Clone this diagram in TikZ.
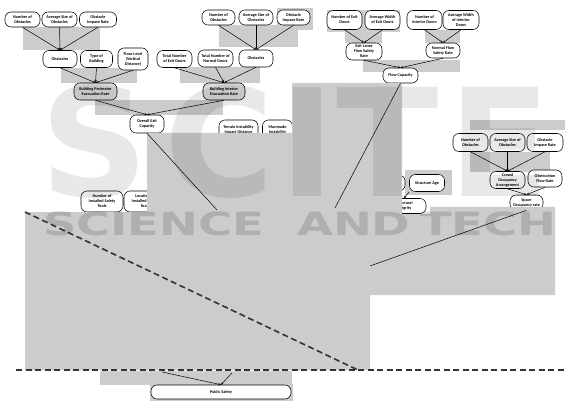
\documentclass[tikz,border=0pt]{standalone}
\usepackage{fontspec}
\usepackage{graphicx}
\setmainfont{Carlito}
\newfontfamily\wmfont{DejaVu Sans}
\usetikzlibrary{arrows.meta}
\definecolor{grayreg}{HTML}{CCCCCC}
\definecolor{dashcol}{HTML}{333333}
\begin{document}
\begin{tikzpicture}[x=1pt,y=-1pt,
  box/.style n args={2}{draw=black, line width=0.55pt, fill=white, rounded corners=6pt,
    inner sep=0pt, align=center, font=\bfseries\fontsize{4.2}{5}\selectfont,
    minimum width=#1pt, minimum height=#2pt},
  gbox/.style n args={2}{box={#1}{#2}, fill=black!14},
  ln/.style={line width=0.5pt, draw=black},
  arr/.style={ln, -{Stealth[length=2.6pt,width=2.2pt]}},
  gr/.style={fill=grayreg},
  dashline/.style={line width=1.6pt, draw=dashcol, dash pattern=on 6pt off 3.5pt},
  wm/.style={text=black, text opacity=0.09, inner sep=0pt, font=\wmfont\bfseries\fontsize{150}{150}\selectfont},
  wms/.style={text=black, text opacity=0.14, inner sep=0pt, anchor=base west, font=\wmfont\bfseries\fontsize{32}{32}\selectfont}
]
\useasboundingbox (0,0) rectangle (566,412);
\fill[white] (0,0) rectangle (566,412);

% gray patches behind nodes
\fill[gr] (23,27) rectangle (100,50);
\fill[gr] (61,68) rectangle (137,83);
\fill[gr] (95,100) rectangle (200,115);
\fill[gr] (219,25) rectangle (298,47);
\fill[gr] (180,67) rectangle (260,83);
\fill[gr] (180,100) rectangle (223,115);
\fill[gr] (277,8) rectangle (313,30);
\fill[gr] (327,10) rectangle (400,32);
\fill[gr] (345,32) rectangle (382,43);
\fill[gr] (425,30) rectangle (460,43);
\fill[gr] (363,60) rectangle (460,72);
\fill[gr] (470,120) rectangle (565,130);
\fill[gr] (470,152) rectangle (550,172);
\fill[gr] (405,170) rectangle (452,195);

% top-left cluster
\node[box={35}{15}] (n1) at (22.5,19.5) {Number of\\Obstacles};
\node[box={35}{15}] (n2) at (59.5,19.5) {Average Size of\\Obstacles};
\node[box={37}{15}] (n3) at (98,19.5) {Obstacle\\Impase Rate};
\node[box={34}{17}] (obs1) at (60,59) {Obstacles};
\node[box={32}{17}] (tob) at (96.5,59) {Type of\\Building};
\node[box={30}{22}] (flv) at (133,59) {Floor Level\\(Vertical\\Distance)};
\node[box={35}{17}] (tne) at (174.5,59) {Total Number\\of Exit Doors};
\node[box={35}{17}] (tnn) at (215.5,58.5) {Total Number of\\Normal Doors};
\node[box={34}{17}] (obs2) at (256,58.5) {Obstacles};
\node[box={33}{15}] (n4) at (218.5,17.5) {Number of\\Obstacles};
\node[box={34}{15}] (n5) at (256,17.5) {Average Size of\\Obstacles};
\node[box={33}{15}] (n6) at (293.5,17.5) {Obstacle\\Impase Rate};
\node[gbox={43}{17}] (bper) at (95.5,91.5) {Building Perimeter\\Evacuation Rate};
\node[gbox={42}{17}] (bint) at (224,91.5) {Building Interior\\Evacuation Rate};
\node[box={34}{18}] (oec) at (147,124) {Overall Exit\\Capacity};

% top-right cluster
\node[box={35}{19}] (ned) at (344.5,20) {Number of Exit\\Doors};
\node[box={35}{19}] (awe) at (382.5,20) {Average Width\\of Exit Doors};
\node[box={35}{19}] (nid) at (424.5,20) {Number of\\Interior Doors};
\node[box={36}{19}] (awi) at (461,20) {Average Width\\of Interior\\Doors};
\node[box={36}{17}] (elf) at (364,51.5) {Exit Lanes\\Flow Safety\\Rate};
\node[box={34}{15}] (nfs) at (443,50.5) {Normal Flow\\Safety Rate};
\node[box={35}{15}] (fc) at (400.5,75.5) {Flow Capacity};

% right cluster
\node[box={35}{18}] (n7) at (470.5,142.5) {Number of\\Obstacles};
\node[box={35}{18}] (n8) at (507.5,142.5) {Average Size of\\Obstacles};
\node[box={36}{18}] (n9) at (545,142.5) {Obstacle\\Impase Rate};
\node[box={35}{17}] (coa) at (507.5,180) {Crowd\\Occupancy\\Arrangement};
\node[box={34}{17}] (ofr) at (545,178.5) {Obstruction\\Flow Rate};
\node[box={33}{15}] (sor) at (526.5,202.5) {Space\\Occupancy rate};

% middle (partly hidden)
\node[box={39}{20}] (tii) at (238.5,130) {Terrain Instability\\Impact Distance};
\node[box={30}{20}] (mmi) at (277.5,130) {Manmade\\Instability};
\node[box={35}{17}] (sa) at (427,183) {Structure Age};
\node[box={38}{16}] (hid) at (386,183) {};
\node[box={44}{15}] (si) at (404,206) {Structural\\Integrity};
\node[box={42}{21}] (nist) at (102,201.5) {Number of\\Installed Safety\\Tools};
\node[box={42}{21}] (list) at (145,201.5) {Location of\\Installed Safety\\Tools};

% arrows
\foreach \s in {n1,n2,n3} \draw[arr] (\s.south) -- (obs1.north);
\foreach \s in {obs1,tob,flv} \draw[arr] (\s.south) -- (bper.north);
\foreach \s in {n4,n5,n6} \draw[arr] (\s.south) -- (obs2.north);
\foreach \s in {tne,tnn,obs2} \draw[arr] (\s.south) -- (bint.north);
\foreach \s in {bper,bint} \draw[arr] (\s.south) -- (oec.north);
\foreach \s in {ned,awe} \draw[arr] (\s.south) -- (elf.north);
\foreach \s in {nid,awi} \draw[arr] (\s.south) -- (nfs.north);
\foreach \s in {elf,nfs} \draw[arr] (\s.south) -- (fc.north);
\foreach \s in {n7,n8,n9} \draw[arr] (\s.south) -- (coa.north);
\foreach \s in {coa,ofr} \draw[arr] (\s.south) -- (sor.north);
\draw[arr] (sa.south west) -- (si.north);

% big gray region
\fill[gr] (25,212) -- (147,212) -- (147,133) -- (292,133) -- (292,83) -- (402,83)
  -- (402,214) -- (430,214) -- (430,207) -- (555,207) -- (555,295) -- (370,295)
  -- (370,370) -- (25,370) -- cycle;

% lines crossing the region
\coordinate (e1) at (217,210);
\coordinate (e2) at (335,208);
\coordinate (e3) at (370,266);
\draw[ln] (oec.south) -- (e1);
\draw[ln] (fc.south) -- (e2);
\draw[ln] (sor.south) -- (e3);

% bottom
\fill[gr] (100,371) rectangle (292,385);
\fill[gr] (150,384) rectangle (293,401);
\node[box={140}{14}] (ps) at (221,392) {Public Safety};
\coordinate (c1) at (162,372);
\coordinate (c2) at (232,373);
\draw[arr] (c1) -- (ps.north);
\draw[arr] (c2) -- (ps.north);

% dashed lines
\coordinate (d1) at (25,212);
\coordinate (d2) at (358,370);
\coordinate (h1) at (16,370);
\coordinate (h2) at (566,370);
\draw[dashline] (d1) -- (d2);
\draw[dashline] (h1) -- (h2);

% watermark
\node[wm] at (95,142) {S};
\node[wm] at (220,142) {C};
\node[wm] at (307,142) {I};
\node[wm] at (388,142) {T};
\node[wm] at (500,142) {E};
\node[wms] at (43,235) {\scalebox{1.45}[1]{SCIENCE}};
\node[wms] at (297,235) {\scalebox{1.45}[1]{AND}};
\node[wms] at (420,235) {\scalebox{1.45}[1]{TECH}};
\end{tikzpicture}
\end{document}
